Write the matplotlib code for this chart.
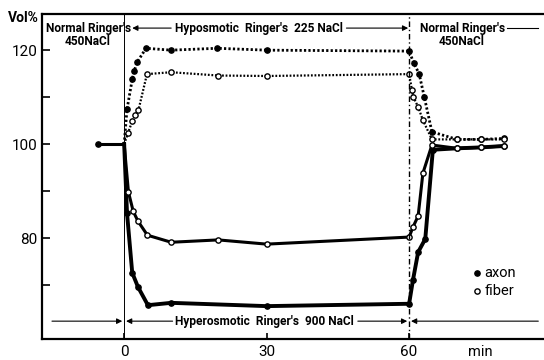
import numpy as np
import matplotlib
matplotlib.use("Agg")
import matplotlib.pyplot as plt

plt.rcParams['font.family'] = ['Liberation Sans Narrow', 'DejaVu Sans Condensed', 'Roboto', 'DejaVu Sans']

# time (min) and volume (%) readings
t_pre = [-5.5, 0]
v_pre = [100, 100]

# hyposmotic Ringer's (225 NaCl) then back to normal
axon_hypo_t = [0, 0.6, 1.7, 2.1, 2.7, 4.6, 9.9, 19.6, 30, 60, 61.0, 62.1, 63.2, 64.8, 70.1, 75.2, 80]
axon_hypo_v = [100, 107.4, 113.8, 115.5, 117.4, 120.4, 120.0, 120.4, 120.0, 119.8, 117.2, 115.0, 110.0, 102.6, 101.0, 101.0, 101.2]
fiber_hypo_t = [0, 0.8, 1.7, 2.3, 3.0, 4.8, 9.9, 19.8, 30, 60, 60.6, 60.9, 61.9, 62.9, 64.8, 70.1, 75.2, 80]
fiber_hypo_v = [100, 102.3, 104.9, 106.2, 107.2, 114.9, 115.3, 114.6, 114.5, 114.9, 111.5, 110.0, 107.9, 105.1, 101.0, 101.0, 101.0, 101.0]

# hyperosmotic Ringer's (900 NaCl) then back to normal
axon_hyper_t = [0, 0.6, 1.7, 2.9, 5.0, 9.9, 30, 60, 60.8, 61.9, 63.4, 65.0, 70.1, 75.2, 80]
axon_hyper_v = [100, 85.3, 72.6, 69.6, 65.7, 66.2, 65.5, 66.0, 71.0, 77.0, 79.8, 98.8, 99.1, 99.3, 99.6]
fiber_hyper_t = [0, 0.9, 1.9, 2.9, 4.9, 9.9, 19.8, 30, 60, 60.8, 61.9, 62.9, 64.8, 70.1, 75.2, 80]
fiber_hyper_v = [100, 89.8, 85.7, 83.6, 80.6, 79.1, 79.6, 78.7, 80.2, 82.3, 84.7, 93.8, 99.8, 99.1, 99.3, 99.6]

fig = plt.figure(figsize=(5.44, 3.6), dpi=100)
ax = fig.add_axes([42 / 544, 21 / 360, 1 - 42 / 544, 325 / 360])
ax.set_xlim(-17.3, 88.4)
ax.set_ylim(58.5, 127.7)

dot = dict(marker='o', markersize=3.8, markeredgewidth=1.0, color='black')

# curves
ax.plot(t_pre, v_pre, color='black', lw=2.2)
ax.plot(t_pre[:1], v_pre[:1], ls='none', **dot)
ax.plot(axon_hypo_t, axon_hypo_v, ls=(0, (0.8, 0.8)), lw=2.0, color='black')
ax.plot(axon_hypo_t[1:], axon_hypo_v[1:], ls='none', **dot)
ax.plot(fiber_hypo_t, fiber_hypo_v, ls=(0, (0.8, 0.8)), lw=1.6, color='black')
ax.plot(fiber_hypo_t[1:], fiber_hypo_v[1:], ls='none', markerfacecolor='white', **dot)
ax.plot(axon_hyper_t, axon_hyper_v, lw=2.8, color='black')
ax.plot(axon_hyper_t[1:], axon_hyper_v[1:], ls='none', **dot)
ax.plot(fiber_hyper_t, fiber_hyper_v, lw=2.2, color='black')
ax.plot(fiber_hyper_t[1:], fiber_hyper_v[1:], ls='none', markerfacecolor='white', **dot)

# solution changes
ax.axvline(0, color='black', lw=0.7)
ax.axvline(60, color='black', lw=1.0, ls=(0, (4, 2, 1, 2)))

# spines and ticks
for s in ['top', 'bottom', 'left']:
    ax.spines[s].set_linewidth(1.6)
ax.spines['right'].set_visible(False)
ax.set_yticks([70, 80, 90, 100, 110, 120])
ax.set_yticklabels(['', '80', '', '100', '', '120'])
ax.set_xticks([0, 30, 60])
ax.set_xticklabels(['0', '30', '60'])
ax.tick_params(direction='in', length=6, width=1.2, labelsize=11, pad=3)
ax.tick_params(axis='x', length=4, pad=4)

fig.text(8 / 544, 1 - 11 / 360, 'Vol%', fontsize=10, fontweight='bold', va='top')
ax.text(72.5, 55.7, 'min', fontsize=10.5, ha='left', va='center', clip_on=False)

lab = dict(fontsize=8.6, fontweight='bold', color='black')
arw = dict(arrowstyle='-|>', lw=0.8, color='black', mutation_scale=8, shrinkA=0, shrinkB=0)

# top labels
ax.text(-7.6, 124.7, "Normal Ringer's", ha='center', va='center', **lab)
ax.text(-7.6, 121.9, "450NaCl", ha='center', va='center', **lab)
ax.text(28.3, 124.7, "Hyposmotic  Ringer's  225 NaCl", ha='center', va='center', **lab)
ax.annotate('', xy=(1.7, 124.7), xytext=(9.9, 124.7), arrowprops=arw)
ax.annotate('', xy=(59.8, 124.7), xytext=(46.8, 124.7), arrowprops=arw)
ax.text(62.3, 124.7, "Normal Ringer's", ha='left', va='center', **lab)
ax.plot([80.6, 87.2], [124.7, 124.7], color='black', lw=0.8)
ax.text(71.0, 121.9, "450NaCl", ha='center', va='center', **lab)

# bottom label
ax.text(29.6, 62.3, "Hyperosmotic  Ringer's  900 NaCl", ha='center', va='center', **lab)
ax.annotate('', xy=(-0.4, 62.3), xytext=(-15.2, 62.3), arrowprops=arw)
ax.annotate('', xy=(0.4, 62.3), xytext=(10.2, 62.3), arrowprops=arw)
ax.annotate('', xy=(59.6, 62.3), xytext=(49.2, 62.3), arrowprops=arw)
ax.annotate('', xy=(60.4, 62.3), xytext=(87.2, 62.3), arrowprops=arw)

# key
ax.plot([74.3], [72.6], ls='none', **dot)
ax.plot([74.3], [68.7], ls='none', markerfacecolor='white', **dot)
ax.text(75.8, 72.6, 'axon', ha='left', va='center', fontsize=10.5)
ax.text(75.8, 68.7, 'fiber', ha='left', va='center', fontsize=10.5)

fig.savefig('out.png', dpi=100)
